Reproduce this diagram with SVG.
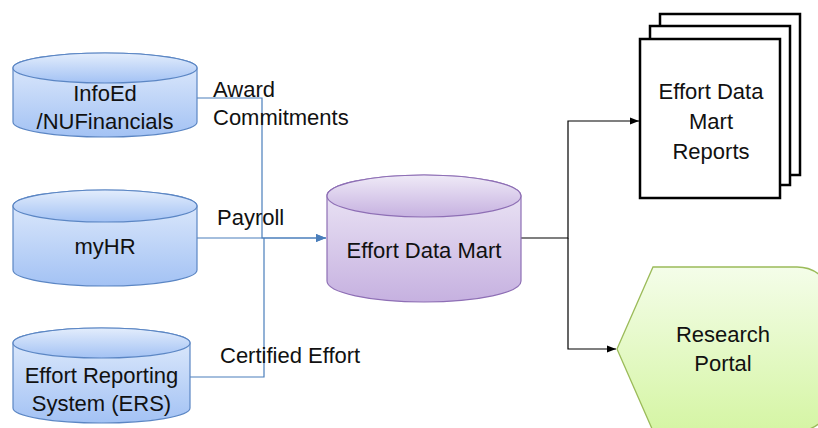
<svg xmlns="http://www.w3.org/2000/svg" width="818" height="428" viewBox="0 0 818 428">
<defs>
<linearGradient id="gBlue" x1="0" y1="0" x2="0" y2="1">
<stop offset="0" stop-color="#e3edfc"/><stop offset="1" stop-color="#a3c2f4"/>
</linearGradient>
<linearGradient id="gPurple" x1="0" y1="0" x2="0" y2="1">
<stop offset="0" stop-color="#efeaf7"/><stop offset="1" stop-color="#c6b1e0"/>
</linearGradient>
<linearGradient id="gGreen" x1="0" y1="0" x2="0" y2="1">
<stop offset="0" stop-color="#f4fde9"/><stop offset="1" stop-color="#d5f5a4"/>
</linearGradient>
<marker id="arB" viewBox="0 0 10 10" refX="10" refY="5" markerWidth="10" markerHeight="10" markerUnits="userSpaceOnUse" orient="auto">
<path d="M0,1 L10,5 L0,9 Z" fill="#4a7ebb"/>
</marker>
<marker id="arK" viewBox="0 0 10 10" refX="10" refY="5" markerWidth="9" markerHeight="9" markerUnits="userSpaceOnUse" orient="auto">
<path d="M0,1 L10,5 L0,9 Z" fill="#000"/>
</marker>
</defs>
<style>
text{font-family:"Liberation Sans",Arial,sans-serif;font-size:22px;fill:#111}
.c{text-anchor:middle}
.blue{fill:url(#gBlue);stroke:#5b86c4;stroke-width:1.2}
.purple{fill:url(#gPurple);stroke:#8e6fb5;stroke-width:1.2}
.conB{fill:none;stroke:#4a7ebb;stroke-width:1.2}
.conK{fill:none;stroke:#000;stroke-width:1.2}
.page{fill:#fff;stroke:#000;stroke-width:2.5}
</style>
<g id="connectors">
<path class="conB" d="M197,98 H262 V238 H326" marker-end="url(#arB)"/>
<path class="conB" d="M197,238 H326" marker-end="url(#arB)"/>
<path class="conB" d="M190,377 H264 V238"/>
<path class="conK" d="M521,238 H568 V121 H639" marker-end="url(#arK)"/>
<path class="conK" d="M568,238 V349 H616" marker-end="url(#arK)"/>
</g>
<g id="labels">
<text x="213" y="97">Award</text>
<text x="213" y="125">Commitments</text>
<text x="217" y="225">Payroll</text>
<text x="220" y="363">Certified Effort</text>
</g>
<g id="infoed">
<path class="blue" d="M13,68 V122 A92,15 0 0 0 197,122 V68 A92,15 0 0 0 13,68 Z"/>
<ellipse class="blue" cx="105" cy="68" rx="92" ry="15"/>
<text class="c" x="105" y="101">InfoEd</text>
<text class="c" x="105" y="129">/NUFinancials</text>
</g>
<g id="myhr">
<path class="blue" d="M13,206 V270 A92,16 0 0 0 197,270 V206 A92,16 0 0 0 13,206 Z"/>
<ellipse class="blue" cx="105" cy="206" rx="92" ry="16"/>
<text class="c" x="105" y="254">myHR</text>
</g>
<g id="ers">
<path class="blue" d="M13,343 V408 A88.5,15 0 0 0 190,408 V343 A88.5,15 0 0 0 13,343 Z"/>
<ellipse class="blue" cx="101.5" cy="343" rx="88.5" ry="15"/>
<text class="c" x="101.5" y="383">Effort Reporting</text>
<text class="c" x="101.5" y="411">System (ERS)</text>
</g>
<g id="datamart">
<path class="purple" d="M327,196 V281 A97,21 0 0 0 521,281 V196 A97,21 0 0 0 327,196 Z"/>
<ellipse class="purple" cx="424" cy="196" rx="97" ry="21"/>
<text class="c" x="424" y="258">Effort Data Mart</text>
</g>
<g id="reports">
<rect class="page" x="660" y="14" width="140" height="161"/>
<rect class="page" x="650" y="26" width="140" height="159"/>
<rect class="page" x="640" y="39" width="140" height="159"/>
<text class="c" x="711" y="99">Effort Data</text>
<text class="c" x="711" y="129">Mart</text>
<text class="c" x="711" y="159">Reports</text>
</g>
<g id="portal">
<path d="M617,349 L653,267 L797,267 Q840,267 840,349 Q840,431 797,431 L653,431 Z" fill="url(#gGreen)" stroke="#9bbb59" stroke-width="1.3"/>
<text class="c" x="723" y="342">Research</text>
<text class="c" x="723" y="371">Portal</text>
</g>
</svg>
